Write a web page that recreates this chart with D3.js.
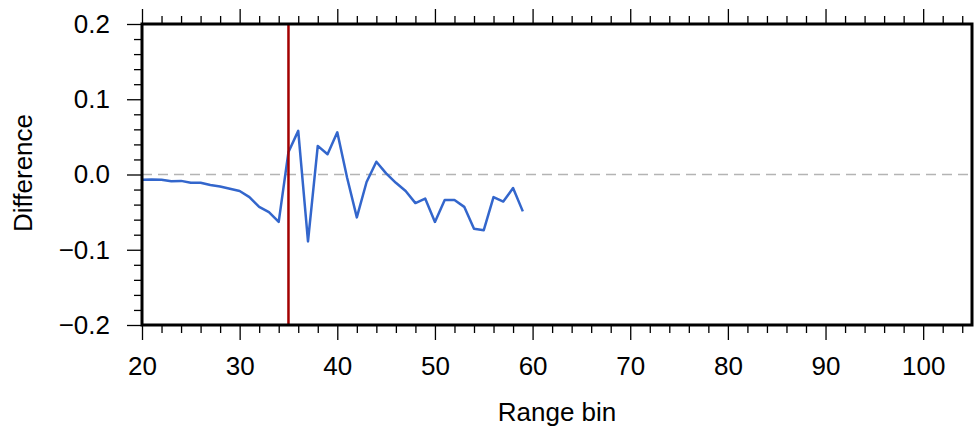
<!DOCTYPE html>
<html><head><meta charset="utf-8">
<script src="https://cdn.jsdelivr.net/npm/d3@7"></script>
<style>body{margin:0;background:#fff}svg{display:block}text{font-family:"Liberation Sans",Arial,sans-serif;fill:#000}</style>
</head><body><svg id="c" width="974" height="427"></svg>
<script>
const bins = [20,21,22,23,24,25,26,27,28,29,30,31,32,33,34,35,36,37,38,39,40,41,42,43,44,45,46,47,48,49,50,51,52,53,54,55,56,57,58,59];
const diff = [-0.007,-0.0068,-0.007,-0.009,-0.0085,-0.011,-0.011,-0.014,-0.016,-0.019,-0.022,-0.030,-0.043,-0.050,-0.063,0.030,0.058,-0.089,0.038,0.027,0.056,-0.004,-0.057,-0.010,0.017,0.0015,-0.011,-0.022,-0.038,-0.032,-0.063,-0.034,-0.034,-0.043,-0.072,-0.074,-0.030,-0.036,-0.018,-0.049];
const xMajor = [20,30,40,50,60,70,80,90,100];
const yMajor = [-0.2,-0.1,0.0,0.1,0.2];
const markerBin = 35;
const xDomain = [20,105], yDomain = [-0.2,0.2];

const svg = d3.select("#c");
const L=142,R=972,T=24,B=325;
const x = d3.scaleLinear().domain(xDomain).range([L,R]);
const y = d3.scaleLinear().domain(yDomain).range([B,T]);
const fmtY = v => (v<0?"\u2212":"") + Math.abs(v).toFixed(1);

const xMinor = d3.range(20,106,2).filter(v=>v%10!==0);
const yMinor = d3.range(-0.2,0.2001,0.02).map(v=>+v.toFixed(2)).filter(v=>Math.abs(Math.round(v*10)-v*10)>1e-6);

// zero line
svg.append("line").attr("x1",L).attr("x2",R).attr("y1",y(0)).attr("y2",y(0))
  .attr("stroke","#b4b4b4").attr("stroke-width",1.5).attr("stroke-dasharray","10,6");

// data line
const line = d3.line().x((d,i)=>x(bins[i])).y(d=>y(d));
svg.append("path").datum(diff).attr("d",line).attr("fill","none")
  .attr("stroke","#3366cc").attr("stroke-width",2.5).attr("stroke-linejoin","round");

// marker
svg.append("line").attr("x1",x(markerBin)).attr("x2",x(markerBin)).attr("y1",T).attr("y2",B)
  .attr("stroke","#a30000").attr("stroke-width",2.5);

function axis(gen, tr){ 
  const g = svg.append("g").attr("transform",tr).call(gen);
  g.select(".domain").remove();
  g.selectAll(".tick line").attr("stroke","#000").attr("stroke-width",1.3);
  return g;
}
// bottom
const gb = axis(d3.axisBottom(x).tickValues(xMajor).tickSize(15).tickPadding(17), `translate(0,${B})`);
gb.selectAll("text").style("font-size","26px");
axis(d3.axisBottom(x).tickValues(xMinor).tickSize(8).tickFormat(""), `translate(0,${B})`);
// top
axis(d3.axisTop(x).tickValues(xMajor).tickSize(15).tickFormat(""), `translate(0,${T})`);
axis(d3.axisTop(x).tickValues(xMinor).tickSize(8).tickFormat(""), `translate(0,${T})`);
// left
const gl = axis(d3.axisLeft(y).tickValues(yMajor).tickSize(15).tickPadding(17).tickFormat(fmtY), `translate(${L},0)`);
gl.selectAll("text").style("font-size","26px");
axis(d3.axisLeft(y).tickValues(yMinor).tickSize(8).tickFormat(""), `translate(${L},0)`);

// frame
svg.append("rect").attr("x",L).attr("y",T).attr("width",R-L).attr("height",B-T)
  .attr("fill","none").attr("stroke","#000").attr("stroke-width",3);

// titles
svg.append("text").attr("x",557).attr("y",421).attr("text-anchor","middle")
  .style("font-size","26px").text("Range bin");
svg.append("text").attr("transform",`translate(32,173) rotate(-90)`).attr("text-anchor","middle")
  .style("font-size","26px").text("Difference");
</script></body></html>
